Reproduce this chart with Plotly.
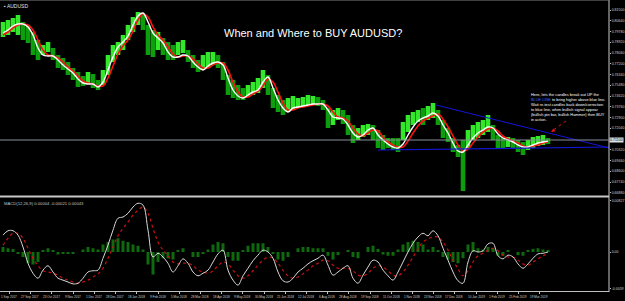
import plotly.graph_objects as go

# ---------------- data ----------------
bar_x = list(range(0, 550, 5))  # bar positions (chart columns)

high = [0.8054, 0.8070, 0.8086, 0.8110, 0.8054, 0.8030, 0.7974, 0.7910, 0.7870, 0.7894,
        0.7846, 0.7790, 0.7766, 0.7734, 0.7686, 0.7654, 0.7622, 0.7654, 0.7638, 0.7590,
        0.7670, 0.7790, 0.7870, 0.7894, 0.7950, 0.8030, 0.8094, 0.8134, 0.8118, 0.8030,
        0.7990, 0.7974, 0.7926, 0.7894, 0.7870, 0.7894, 0.7910, 0.7830, 0.7790, 0.7750,
        0.7790, 0.7814, 0.7814, 0.7790, 0.7734, 0.7630, 0.7590, 0.7550, 0.7526, 0.7550,
        0.7574, 0.7606, 0.7670, 0.7630, 0.7526, 0.7470, 0.7430, 0.7446, 0.7462, 0.7446,
        0.7454, 0.7470, 0.7462, 0.7454, 0.7430, 0.7366, 0.7350, 0.7366, 0.7350, 0.7310,
        0.7230, 0.7206, 0.7230, 0.7238, 0.7230, 0.7190, 0.7150, 0.7126, 0.7126, 0.7126,
        0.7254, 0.7310, 0.7334, 0.7350, 0.7366, 0.7382, 0.7406, 0.7350, 0.7270, 0.7206,
        0.7126, 0.7070, 0.7110, 0.7190, 0.7230, 0.7254, 0.7270, 0.7310, 0.7230, 0.7150,
        0.7126, 0.7134, 0.7126, 0.7110, 0.7094, 0.7110, 0.7134, 0.7142, 0.7150, 0.7126]

low = [0.7934, 0.7950, 0.7974, 0.7950, 0.7910, 0.7886, 0.7790, 0.7750, 0.7790, 0.7814,
       0.7750, 0.7686, 0.7670, 0.7630, 0.7590, 0.7534, 0.7542, 0.7558, 0.7526, 0.7510,
       0.7550, 0.7630, 0.7734, 0.7790, 0.7830, 0.7910, 0.7974, 0.8030, 0.7990, 0.7790,
       0.7774, 0.7830, 0.7790, 0.7750, 0.7750, 0.7790, 0.7806, 0.7734, 0.7686, 0.7654,
       0.7670, 0.7686, 0.7710, 0.7686, 0.7590, 0.7470, 0.7446, 0.7430, 0.7430, 0.7454,
       0.7470, 0.7486, 0.7526, 0.7470, 0.7366, 0.7334, 0.7310, 0.7334, 0.7350, 0.7366,
       0.7382, 0.7382, 0.7390, 0.7382, 0.7350, 0.7206, 0.7230, 0.7270, 0.7238, 0.7150,
       0.7086, 0.7110, 0.7134, 0.7150, 0.7110, 0.7046, 0.7030, 0.7046, 0.7030, 0.7014,
       0.7110, 0.7174, 0.7230, 0.7254, 0.7230, 0.7270, 0.7286, 0.7230, 0.7126, 0.7094,
       0.7014, 0.6974, 0.6702, 0.7046, 0.7110, 0.7126, 0.7150, 0.7174, 0.7110, 0.7046,
       0.7046, 0.7054, 0.7046, 0.7014, 0.6990, 0.7030, 0.7046, 0.7062, 0.7070, 0.7078]

ma_fast = [0.7966, 0.7990, 0.8022, 0.8038, 0.8038, 0.8014, 0.7950, 0.7846, 0.7790, 0.7782,
           0.7782, 0.7750, 0.7710, 0.7678, 0.7646, 0.7598, 0.7566, 0.7558, 0.7558, 0.7534,
           0.7574, 0.7670, 0.7774, 0.7854, 0.7894, 0.7942, 0.8030, 0.8102, 0.8126, 0.8054,
           0.7966, 0.7926, 0.7886, 0.7814, 0.7774, 0.7774, 0.7790, 0.7782, 0.7734, 0.7694,
           0.7670, 0.7702, 0.7726, 0.7734, 0.7710, 0.7606, 0.7510, 0.7462, 0.7446, 0.7470,
           0.7494, 0.7510, 0.7574, 0.7614, 0.7526, 0.7430, 0.7366, 0.7334, 0.7366, 0.7374,
           0.7382, 0.7390, 0.7398, 0.7398, 0.7398, 0.7350, 0.7294, 0.7286, 0.7278, 0.7230,
           0.7166, 0.7134, 0.7150, 0.7190, 0.7206, 0.7150, 0.7110, 0.7078, 0.7054, 0.7046,
           0.7078, 0.7150, 0.7214, 0.7262, 0.7286, 0.7302, 0.7326, 0.7302, 0.7230, 0.7166,
           0.7086, 0.7022, 0.7014, 0.7070, 0.7126, 0.7166, 0.7190, 0.7214, 0.7206, 0.7158,
           0.7126, 0.7110, 0.7094, 0.7070, 0.7054, 0.7054, 0.7070, 0.7086, 0.7094, 0.7102]

ma_slow = [0.7950, 0.7974, 0.8006, 0.8030, 0.8038, 0.8030, 0.7990, 0.7910, 0.7830, 0.7790,
           0.7782, 0.7766, 0.7734, 0.7694, 0.7662, 0.7622, 0.7582, 0.7566, 0.7558, 0.7542,
           0.7542, 0.7606, 0.7702, 0.7798, 0.7862, 0.7910, 0.7982, 0.8070, 0.8118, 0.8094,
           0.8014, 0.7950, 0.7910, 0.7854, 0.7798, 0.7774, 0.7782, 0.7782, 0.7758, 0.7718,
           0.7686, 0.7686, 0.7710, 0.7726, 0.7726, 0.7670, 0.7574, 0.7494, 0.7454, 0.7454,
           0.7478, 0.7502, 0.7542, 0.7598, 0.7574, 0.7494, 0.7406, 0.7350, 0.7350, 0.7366,
           0.7374, 0.7382, 0.7390, 0.7398, 0.7398, 0.7382, 0.7334, 0.7294, 0.7286, 0.7262,
           0.7206, 0.7158, 0.7142, 0.7166, 0.7190, 0.7182, 0.7134, 0.7094, 0.7070, 0.7054,
           0.7054, 0.7102, 0.7166, 0.7222, 0.7262, 0.7286, 0.7302, 0.7318, 0.7278, 0.7214,
           0.7142, 0.7070, 0.7022, 0.7038, 0.7086, 0.7134, 0.7174, 0.7198, 0.7206, 0.7182,
           0.7142, 0.7118, 0.7102, 0.7086, 0.7062, 0.7054, 0.7062, 0.7070, 0.7086, 0.7094]

# MACD values in units of 0.0001
macd_main = [27, 34, 34, 27, 8, -18, -34, -42, -29, -22,
             -32, -42, -45, -48, -51, -50, -42, -32, -30, -29,
             -10, 11, 35, 54, 56, 62, 72, 78, 75, 35,
             -8, -2, -8, -18, -32, -22, -11, -18, -32, -38,
             -34, -29, -16, -3, 3, -29, -45, -53, -38, -26,
             -14, -5, 3, 0, -10, -32, -46, -48, -42, -32,
             -26, -19, -14, -10, -5, -21, -37, -32, -26, -22,
             -42, -50, -37, -24, -13, -16, -29, -38, -45, -32,
             -16, 0, 14, 24, 30, 26, 34, 26, 6, -13,
             -32, -46, -50, -16, 2, 0, 2, 13, 14, -6,
             -11, -5, -8, -19, -26, -19, -10, -3, -2, 0]

macd_signal = [11, 22, 30, 30, 22, 6, -10, -22, -30, -32,
               -34, -37, -42, -45, -48, -50, -48, -45, -40, -35,
               -26, -10, 8, 26, 38, 48, 59, 67, 72, 62,
               38, 16, 3, -6, -16, -19, -18, -18, -22, -29,
               -32, -34, -30, -22, -16, -19, -29, -38, -42, -38,
               -30, -21, -13, -8, -10, -18, -29, -38, -42, -40,
               -35, -29, -22, -18, -13, -14, -21, -26, -26, -26,
               -30, -37, -38, -34, -26, -22, -24, -30, -37, -38,
               -32, -21, -8, 5, 16, 21, 24, 24, 16, 3,
               -13, -27, -38, -30, -16, -6, -2, 3, 6, 2,
               -5, -8, -8, -13, -19, -21, -16, -11, -6, -3]

macd_hist = [8, 6, 5, -3, -8, -18, -20, -16, 2, 6,
             2, -4, -3, -3, -2, 0, 4, 8, 6, 4,
             12, 16, 20, 22, 18, 16, 12, 10, 4, -20,
             -36, -16, -10, -10, -12, 2, 6, 0, -8, -8,
             -2, 4, 12, 16, 14, -8, -14, -14, 2, 10,
             14, 14, 14, 8, -2, -12, -14, -8, 0, 6,
             8, 8, 6, 6, 6, -6, -12, -5, 0, 3,
             -8, -10, 0, 8, 10, 5, -4, -6, -6, 4,
             12, 16, 18, 16, 12, 4, 8, 2, -8, -12,
             -16, -18, -10, 12, 16, 6, 4, 8, 6, -6,
             -6, 2, 0, -5, -6, 2, 5, 6, 4, 3]

MACD_UNIT = 0.0001

# hand-drawn objects on the chart
trend_upper_x = [433, 606]
trend_upper_y = [0.7390, 0.7046]
trend_lower_x = [375, 606]
trend_lower_y = [0.7030, 0.7054]
current_price = 0.7110

price_ticks = [0.8150, 0.8064, 0.7978, 0.7892, 0.7806, 0.7720, 0.7634, 0.7548, 0.7462,
               0.7376, 0.7290, 0.7204, 0.7032, 0.6946, 0.6860, 0.6774, 0.6688]

date_tick_pos = [6, 27, 48, 70, 91, 112, 133, 155, 176, 197, 218, 239, 261, 282, 303,
                 324, 345, 367, 388, 409, 430, 451, 473, 494, 515, 536]
date_tick_text = ["1 Sep 2017", "27 Sep 2017", "23 Oct 2017", "9 Nov 2017", "1 Dec 2017",
                  "28 Dec 2017", "18 Jan 2018", "9 Feb 2018", "5 Mar 2018", "28 Mar 2018",
                  "18 Apr 2018", "9 May 2018", "30 May 2018", "21 Jun 2018", "12 Jul 2018",
                  "6 Aug 2018", "28 Aug 2018", "19 Sep 2018", "11 Oct 2018", "1 Nov 2018",
                  "23 Nov 2018", "17 Dec 2018", "10 Jan 2019", "1 Feb 2019", "25 Feb 2019",
                  "19 Mar 2019"]

# ---------------- figure ----------------
W, H = 625, 301
PLOT_H = 292
def frac(ypx):
    return (PLOT_H - ypx) / PLOT_H

x_end = 609 / W
fig = go.Figure()

rng = [h - l for h, l in zip(high, low)]
bar_cols = []
for i in range(len(high)):
    up = i == 0 or (high[i] + low[i]) >= (high[i - 1] + low[i - 1])
    bar_cols.append("#33e82a" if up else "#0c9e0c")

fig.add_trace(go.Bar(x=bar_x, y=rng, base=low, width=4.6, marker=dict(color=bar_cols, line=dict(width=0)),
                     xaxis="x", yaxis="y", hoverinfo="skip"))
fig.add_trace(go.Scatter(x=bar_x, y=ma_slow, mode="lines", line=dict(color="#ff1010", width=1.6, shape="spline"),
                         xaxis="x", yaxis="y", hoverinfo="skip"))
fig.add_trace(go.Scatter(x=bar_x, y=ma_fast, mode="lines", line=dict(color="#ffffff", width=1.4, shape="spline"),
                         xaxis="x", yaxis="y", hoverinfo="skip"))
fig.add_trace(go.Scatter(x=trend_upper_x, y=trend_upper_y, mode="lines", line=dict(color="#1515d8", width=1),
                         xaxis="x", yaxis="y", hoverinfo="skip"))
fig.add_trace(go.Scatter(x=trend_lower_x, y=trend_lower_y, mode="lines", line=dict(color="#1515d8", width=1.2),
                         xaxis="x", yaxis="y", hoverinfo="skip"))

fig.add_trace(go.Bar(x=bar_x, y=[v * MACD_UNIT for v in macd_hist], width=3,
                     marker=dict(color="#0f6a0f", line=dict(width=0)), xaxis="x2", yaxis="y2", hoverinfo="skip"))
fig.add_trace(go.Scatter(x=bar_x, y=[v * MACD_UNIT for v in macd_signal], mode="lines",
                         line=dict(color="#c81010", width=1.2, dash="dot", shape="spline"),
                         xaxis="x2", yaxis="y2", hoverinfo="skip"))
fig.add_trace(go.Scatter(x=bar_x, y=[v * MACD_UNIT for v in macd_main], mode="lines",
                         line=dict(color="#d8d8d8", width=1, shape="spline"),
                         xaxis="x2", yaxis="y2", hoverinfo="skip"))

axis_font = dict(family="Arial", size=3.5, color="#d0d0d0")
price_top = 0.8230 - 0.0008 * 2
price_bot = 0.8230 - 0.0008 * 196

fig.update_layout(
    width=W, height=H, margin=dict(l=0, r=0, t=0, b=H - PLOT_H),
    paper_bgcolor="#000000", plot_bgcolor="#000000", showlegend=False, barmode="overlay",
    font=dict(family="Arial", color="#ffffff"),
    xaxis=dict(domain=[0, x_end], range=[-3, 606], showticklabels=False, showgrid=False,
               zeroline=False, anchor="y", showline=False),
    xaxis2=dict(domain=[0, x_end], range=[-3, 606], matches="x", anchor="y2", showgrid=False, zeroline=False,
                tickmode="array", tickvals=date_tick_pos, showticklabels=False,
                ticks="outside", ticklen=2, tickcolor="#c0c0c0", showline=True, linecolor="#c0c0c0",
                linewidth=1, automargin=False),
    yaxis=dict(domain=[frac(196), frac(2)], range=[price_bot, price_top], side="right", anchor="x",
               showgrid=False, zeroline=False, tickmode="array", tickvals=price_ticks,
               ticktext=["%.5f" % v for v in price_ticks], tickfont=axis_font, ticks="outside",
               ticklen=1, tickcolor="#c0c0c0", automargin=False),
    yaxis2=dict(domain=[frac(291), frac(198)], range=[-62.4 * MACD_UNIT, 86.4 * MACD_UNIT], side="right",
                anchor="x2", showgrid=False, zeroline=False, tickmode="array",
                tickvals=[0.00827, 0.0, -0.00590], ticktext=["0.00827", "0.00", "-0.0059"],
                tickfont=axis_font, ticks="outside", ticklen=1, tickcolor="#c0c0c0", automargin=False),
)

# date labels along the bottom
for pos, txt in zip(date_tick_pos, date_tick_text):
    fig.add_annotation(xref="x2", yref="paper", x=pos, y=frac(296.5), text=txt, showarrow=False,
                       xanchor="center", yanchor="middle", font=dict(family="Arial", size=3.1, color="#d0d0d0"))

# frame / separators
fig.add_shape(type="line", xref="paper", yref="paper", x0=0, x1=x_end, y0=frac(196.5), y1=frac(196.5),
              line=dict(color="#c8c8c8", width=2))
fig.add_shape(type="line", xref="paper", yref="paper", x0=x_end, x1=x_end, y0=0, y1=1,
              line=dict(color="#c8c8c8", width=1))
fig.add_shape(type="line", xref="paper", yref="paper", x0=0, x1=x_end, y0=1, y1=1,
              line=dict(color="#808080", width=1))
fig.add_shape(type="line", xref="paper", yref="y", x0=0, x1=x_end, y0=current_price, y1=current_price,
              line=dict(color="#8a8f99", width=1))
# red dotted arrow
fig.add_shape(type="line", xref="x", yref="y", x0=563, x1=549, y0=0.8230 - 0.0008 * 121,
              y1=0.8230 - 0.0008 * 131, line=dict(color="#e01010", width=1, dash="dot"))
fig.add_annotation(x=548, y=0.8230 - 0.0008 * 132, ax=552, ay=0.8230 - 0.0008 * 129.5, xref="x", yref="y",
                   axref="x", ayref="y", text="", showarrow=True, arrowhead=2, arrowsize=0.8,
                   arrowwidth=1, arrowcolor="#e01010")

# current price box
fig.add_annotation(xref="paper", yref="y", x=x_end, y=current_price, xanchor="left", yanchor="middle",
                   text="0.71100", showarrow=False, bgcolor="#e0e0e0", borderpad=0,
                   font=dict(family="Arial", size=3.6, color="#000000"))

# texts
fig.add_annotation(xref="paper", yref="paper", x=313 / W, y=frac(33), text="When and Where to BUY AUDUSD?",
                   showarrow=False, font=dict(family="Arial", size=11, color="#ffffff"),
                   xanchor="center", yanchor="middle")
fig.add_annotation(xref="paper", yref="paper", x=2 / W, y=frac(1), text="▪ AUDUSD", showarrow=False,
                   font=dict(family="Arial", size=5, color="#e0e0e0"), xanchor="left", yanchor="top")
fig.add_annotation(xref="paper", yref="paper", x=2 / W, y=frac(199), text="MACD(12,26,9) 0.00004 -0.00021 0.00043",
                   showarrow=False, font=dict(family="Arial", size=4.2, color="#c0c0c0"),
                   xanchor="left", yanchor="top")
note = ("Here, lets the candles break out UP the<br>"
        "<span style='color:#3b63ff'>BLUE LINE</span> to bring higher above blue line.<br>"
        "Wait re-test candles back down/correction<br>"
        "to blue line, when bullish signal appear<br>"
        "(bullish pin bar, bullish Hammer) then BUY<br>"
        "in action.")
fig.add_annotation(xref="paper", yref="paper", x=529 / W, y=frac(90), text=note, showarrow=False,
                   align="left", xanchor="left", yanchor="top",
                   font=dict(family="Arial", size=3.9, color="#ffffff"))

fig.write_html("out.html")
